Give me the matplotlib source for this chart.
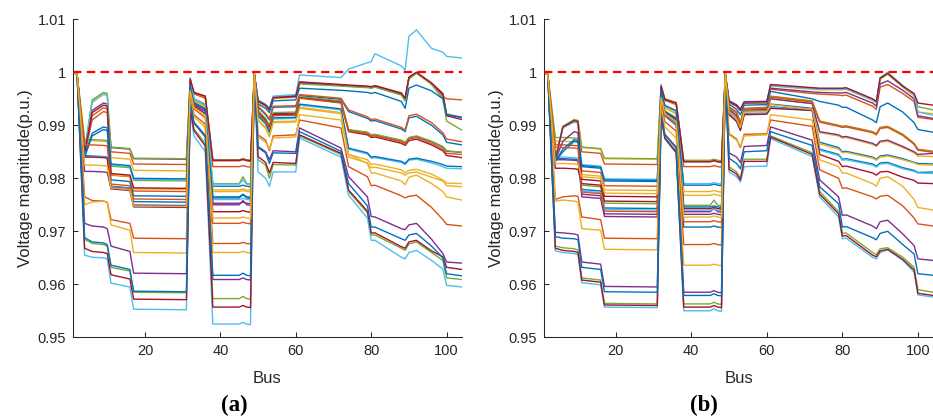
import numpy as np
import matplotlib
matplotlib.use("Agg")
import matplotlib.pyplot as plt

buses = [1, 2, 4, 6, 9, 10, 11, 16, 17, 31, 32, 33, 36, 38, 45, 46, 47, 48, 49,
         50, 52, 53, 54, 60, 61, 72, 74, 79, 80, 81, 88, 89, 90, 92, 96, 99, 100, 104]

# Panel (a) voltages, units of 1e-4 p.u., one list per hour (h01..h24)
a01 = [10000, 9996, 9843, 9842, 9841, 9840, 9785, 9782, 9756, 9755, 9977, 9949, 9938, 9785, 9785, 9787, 9785, 9784, 9997, 9934, 9920, 9910, 9934, 9935, 9956, 9949, 9926, 9913, 9908, 9909, 9893, 9888, 9914, 9917, 9900, 9882, 9868, 9863]
a02 = [10000, 9996, 9845, 9910, 9926, 9924, 9806, 9803, 9776, 9775, 9984, 9959, 9951, 9822, 9822, 9824, 9822, 9821, 9997, 9936, 9922, 9912, 9936, 9937, 9958, 9951, 9929, 9916, 9911, 9912, 9896, 9891, 9918, 9921, 9905, 9886, 9874, 9869]
a03 = [10000, 9996, 9871, 9871, 9870, 9869, 9807, 9804, 9780, 9779, 9976, 9947, 9936, 9778, 9778, 9780, 9778, 9777, 9997, 9910, 9896, 9880, 9907, 9908, 9934, 9924, 9845, 9835, 9826, 9827, 9816, 9810, 9815, 9817, 9808, 9797, 9791, 9790]
a04 = [10000, 9996, 9813, 9813, 9812, 9811, 9780, 9777, 9746, 9745, 9970, 9939, 9926, 9750, 9750, 9758, 9750, 9749, 9997, 9926, 9911, 9898, 9922, 9923, 9953, 9945, 9891, 9886, 9881, 9882, 9871, 9867, 9876, 9879, 9869, 9859, 9851, 9849]
a05 = [10000, 9996, 9873, 9873, 9872, 9871, 9823, 9820, 9796, 9795, 9978, 9950, 9940, 9790, 9790, 9803, 9790, 9789, 9997, 9928, 9913, 9900, 9924, 9925, 9954, 9946, 9892, 9887, 9882, 9883, 9872, 9868, 9877, 9880, 9870, 9860, 9852, 9849]
a06 = [10000, 9996, 9841, 9841, 9840, 9839, 9784, 9781, 9750, 9749, 9972, 9942, 9930, 9760, 9760, 9762, 9760, 9759, 9997, 9916, 9902, 9886, 9912, 9913, 9938, 9929, 9855, 9846, 9838, 9839, 9830, 9826, 9834, 9836, 9829, 9822, 9819, 9818]
a07 = [10000, 9996, 9840, 9840, 9839, 9838, 9783, 9780, 9749, 9748, 9967, 9936, 9922, 9737, 9737, 9739, 9737, 9736, 9997, 9924, 9909, 9895, 9920, 9921, 9952, 9943, 9888, 9882, 9877, 9878, 9866, 9862, 9871, 9874, 9863, 9852, 9843, 9839]
a08 = [10000, 9996, 9840, 9880, 9892, 9890, 9797, 9794, 9767, 9766, 9973, 9943, 9931, 9765, 9765, 9770, 9765, 9764, 9997, 9918, 9904, 9888, 9914, 9915, 9940, 9931, 9857, 9848, 9840, 9841, 9832, 9828, 9836, 9838, 9832, 9826, 9823, 9822]
a09 = [10000, 9996, 9846, 9918, 9933, 9931, 9850, 9847, 9827, 9826, 9987, 9961, 9954, 9833, 9833, 9835, 9833, 9832, 9997, 9946, 9938, 9930, 9953, 9955, 9981, 9976, 9975, 9973, 9972, 9974, 9960, 9950, 9990, 10000, 9978, 9955, 9950, 9948]
a10 = [10000, 9996, 9848, 9943, 9958, 9956, 9839, 9836, 9815, 9814, 9975, 9946, 9935, 9775, 9775, 9777, 9775, 9774, 9997, 9944, 9936, 9928, 9950, 9953, 9979, 9975, 9974, 9972, 9971, 9973, 9958, 9948, 9988, 9998, 9978, 9958, 9922, 9915]
a11 = [10000, 9996, 9850, 9928, 9942, 9940, 9858, 9855, 9837, 9836, 9971, 9940, 9927, 9753, 9753, 9755, 9753, 9752, 9997, 9945, 9937, 9929, 9952, 9954, 9980, 9975, 9974, 9972, 9971, 9973, 9959, 9949, 9989, 9999, 9979, 9958, 9920, 9915]
a12 = [10000, 9996, 9852, 9948, 9962, 9960, 9859, 9856, 9838, 9837, 9987, 9962, 9955, 9835, 9835, 9837, 9835, 9834, 9997, 9947, 9939, 9931, 9954, 9956, 9978, 9974, 9973, 9971, 9970, 9972, 9957, 9946, 9987, 9999, 9977, 9950, 9908, 9891]
a13 = [10000, 9996, 9850, 9945, 9960, 9958, 9825, 9822, 9798, 9797, 9990, 9950, 9940, 9789, 9789, 9797, 9789, 9788, 9997, 9948, 9940, 9932, 9955, 9958, 9995, 9990, 10006, 10018, 10020, 10035, 10012, 10004, 10068, 10080, 10045, 10038, 10030, 10027]
a14 = [10000, 9996, 9848, 9924, 9938, 9936, 9809, 9806, 9782, 9781, 9987, 9962, 9955, 9834, 9834, 9836, 9834, 9833, 9997, 9946, 9938, 9930, 9952, 9955, 9982, 9977, 9976, 9974, 9973, 9975, 9961, 9951, 9991, 10000, 9980, 9960, 9918, 9911]
a15 = [10000, 9996, 9842, 9885, 9897, 9895, 9827, 9824, 9800, 9799, 9973, 9943, 9931, 9763, 9763, 9769, 9763, 9762, 9997, 9940, 9932, 9924, 9946, 9948, 9970, 9966, 9965, 9962, 9960, 9962, 9945, 9932, 9970, 9976, 9965, 9950, 9920, 9915]
a16 = [10000, 9996, 9765, 9758, 9757, 9755, 9722, 9715, 9687, 9686, 9955, 9920, 9902, 9677, 9677, 9679, 9677, 9676, 9997, 9882, 9872, 9852, 9880, 9882, 9910, 9895, 9822, 9803, 9786, 9787, 9767, 9763, 9766, 9768, 9745, 9722, 9713, 9710]
a17 = [10000, 9996, 9750, 9755, 9757, 9755, 9712, 9702, 9660, 9659, 9952, 9916, 9896, 9660, 9660, 9662, 9660, 9659, 9997, 9878, 9868, 9855, 9876, 9878, 9920, 9910, 9845, 9828, 9810, 9810, 9795, 9788, 9802, 9806, 9790, 9775, 9765, 9759]
a18 = [10000, 9996, 9715, 9710, 9708, 9705, 9672, 9662, 9621, 9620, 9942, 9904, 9878, 9609, 9609, 9612, 9609, 9608, 9997, 9860, 9850, 9835, 9852, 9850, 9895, 9857, 9803, 9765, 9728, 9727, 9705, 9703, 9712, 9715, 9685, 9658, 9642, 9640]
a19 = [10000, 9996, 9685, 9677, 9675, 9672, 9632, 9625, 9585, 9584, 9935, 9893, 9866, 9573, 9573, 9577, 9573, 9572, 9997, 9835, 9825, 9800, 9826, 9825, 9880, 9845, 9775, 9735, 9693, 9693, 9668, 9664, 9676, 9680, 9660, 9645, 9612, 9609]
a20 = [10000, 9996, 9655, 9651, 9650, 9648, 9602, 9595, 9553, 9552, 9925, 9880, 9850, 9525, 9525, 9528, 9525, 9524, 9997, 9812, 9800, 9785, 9812, 9812, 9876, 9840, 9768, 9725, 9683, 9683, 9651, 9648, 9660, 9664, 9645, 9629, 9598, 9595]
a21 = [10000, 9996, 9668, 9662, 9660, 9658, 9618, 9610, 9572, 9571, 9931, 9890, 9861, 9557, 9557, 9560, 9557, 9556, 9997, 9841, 9830, 9810, 9830, 9828, 9882, 9847, 9778, 9738, 9697, 9697, 9671, 9668, 9680, 9683, 9663, 9652, 9632, 9628]
a22 = [10000, 9996, 9688, 9680, 9678, 9675, 9636, 9628, 9587, 9586, 9943, 9906, 9881, 9617, 9617, 9621, 9617, 9616, 9997, 9858, 9848, 9828, 9848, 9847, 9888, 9851, 9790, 9748, 9708, 9708, 9686, 9683, 9693, 9696, 9672, 9650, 9620, 9616]
a23 = [10000, 9996, 9863, 9863, 9862, 9861, 9789, 9786, 9761, 9760, 9963, 9931, 9914, 9715, 9715, 9717, 9715, 9714, 9997, 9922, 9907, 9893, 9918, 9919, 9951, 9942, 9889, 9884, 9879, 9880, 9869, 9865, 9874, 9877, 9866, 9855, 9847, 9845]
a24 = [10000, 9996, 9825, 9825, 9824, 9823, 9782, 9779, 9748, 9747, 9965, 9933, 9918, 9725, 9725, 9727, 9725, 9724, 9997, 9908, 9894, 9878, 9905, 9906, 9932, 9922, 9840, 9829, 9820, 9821, 9810, 9806, 9810, 9812, 9802, 9795, 9786, 9784]

# Panel (b) voltages, units of 1e-4 p.u.
b01 = [10000, 9996, 9837, 9837, 9836, 9835, 9779, 9776, 9744, 9743, 9948, 9918, 9900, 9708, 9708, 9710, 9708, 9707, 9997, 9922, 9910, 9893, 9922, 9923, 9935, 9929, 9855, 9845, 9836, 9837, 9827, 9823, 9829, 9830, 9820, 9815, 9811, 9812]
b02 = [10000, 9996, 9863, 9863, 9862, 9861, 9814, 9811, 9786, 9785, 9972, 9947, 9939, 9822, 9822, 9824, 9822, 9821, 9997, 9935, 9925, 9905, 9932, 9934, 9955, 9946, 9908, 9900, 9898, 9899, 9888, 9884, 9896, 9898, 9883, 9866, 9855, 9851]
b03 = [10000, 9996, 9870, 9870, 9869, 9868, 9807, 9804, 9778, 9777, 9961, 9933, 9921, 9768, 9768, 9770, 9768, 9767, 9997, 9930, 9918, 9900, 9929, 9930, 9950, 9941, 9886, 9880, 9876, 9877, 9864, 9860, 9868, 9870, 9858, 9848, 9842, 9841]
b04 = [10000, 9996, 9835, 9835, 9834, 9833, 9770, 9767, 9733, 9732, 9954, 9924, 9910, 9737, 9737, 9743, 9737, 9736, 9997, 9930, 9918, 9900, 9929, 9930, 9950, 9941, 9888, 9882, 9878, 9879, 9866, 9862, 9870, 9872, 9860, 9850, 9845, 9847]
b05 = [10000, 9996, 9877, 9877, 9876, 9875, 9787, 9784, 9753, 9752, 9957, 9927, 9914, 9749, 9749, 9759, 9749, 9748, 9997, 9934, 9924, 9904, 9931, 9933, 9954, 9945, 9907, 9899, 9897, 9898, 9887, 9883, 9895, 9897, 9882, 9865, 9854, 9850]
b06 = [10000, 9996, 9840, 9840, 9839, 9838, 9776, 9773, 9741, 9740, 9955, 9925, 9911, 9740, 9740, 9742, 9740, 9739, 9997, 9921, 9909, 9892, 9921, 9922, 9934, 9928, 9853, 9843, 9834, 9835, 9825, 9821, 9827, 9828, 9818, 9813, 9810, 9809]
b07 = [10000, 9996, 9819, 9819, 9818, 9817, 9790, 9787, 9757, 9756, 9956, 9925, 9912, 9743, 9743, 9745, 9743, 9742, 9997, 9920, 9907, 9890, 9920, 9921, 9932, 9928, 9845, 9832, 9822, 9823, 9810, 9806, 9812, 9813, 9802, 9796, 9791, 9790]
b08 = [10000, 9996, 9832, 9850, 9870, 9868, 9822, 9819, 9795, 9794, 9956, 9926, 9913, 9746, 9746, 9748, 9746, 9745, 9997, 9926, 9913, 9897, 9926, 9927, 9940, 9932, 9868, 9858, 9850, 9851, 9840, 9836, 9842, 9844, 9837, 9830, 9828, 9827]
b09 = [10000, 9996, 9834, 9896, 9907, 9905, 9850, 9847, 9827, 9826, 9974, 9949, 9942, 9832, 9832, 9834, 9832, 9831, 9997, 9944, 9936, 9928, 9942, 9942, 9968, 9960, 9959, 9957, 9956, 9957, 9936, 9930, 9972, 9977, 9960, 9945, 9915, 9911]
b10 = [10000, 9996, 9835, 9897, 9908, 9906, 9858, 9855, 9837, 9836, 9962, 9934, 9923, 9775, 9775, 9777, 9775, 9774, 9997, 9945, 9937, 9929, 9943, 9943, 9974, 9968, 9967, 9967, 9967, 9968, 9947, 9942, 9987, 9996, 9972, 9955, 9925, 9922]
b11 = [10000, 9996, 9835, 9870, 9888, 9886, 9765, 9762, 9728, 9727, 9953, 9923, 9909, 9732, 9732, 9734, 9732, 9731, 9997, 9944, 9936, 9928, 9942, 9943, 9970, 9963, 9962, 9961, 9961, 9962, 9942, 9936, 9978, 9984, 9966, 9950, 9918, 9913]
b12 = [10000, 9996, 9836, 9898, 9911, 9909, 9859, 9856, 9838, 9837, 9975, 9950, 9943, 9834, 9834, 9836, 9834, 9833, 9997, 9946, 9938, 9930, 9944, 9944, 9976, 9970, 9969, 9969, 9969, 9970, 9949, 9944, 9988, 9997, 9973, 9958, 9935, 9929]
b13 = [10000, 9996, 9834, 9895, 9906, 9904, 9826, 9823, 9799, 9798, 9977, 9938, 9928, 9790, 9790, 9792, 9790, 9789, 9997, 9947, 9939, 9931, 9945, 9945, 9975, 9969, 9968, 9968, 9968, 9969, 9948, 9943, 9990, 10000, 9975, 9958, 9925, 9919]
b14 = [10000, 9996, 9835, 9897, 9909, 9907, 9798, 9795, 9766, 9765, 9974, 9949, 9942, 9831, 9831, 9833, 9831, 9830, 9997, 9946, 9938, 9930, 9944, 9945, 9977, 9971, 9970, 9970, 9970, 9971, 9950, 9945, 9989, 9998, 9974, 9960, 9942, 9938]
b15 = [10000, 9996, 9833, 9855, 9873, 9871, 9824, 9821, 9797, 9796, 9965, 9937, 9927, 9787, 9787, 9789, 9787, 9786, 9997, 9940, 9930, 9920, 9938, 9939, 9964, 9950, 9945, 9938, 9934, 9934, 9910, 9905, 9935, 9942, 9925, 9905, 9892, 9887]
b16 = [10000, 9996, 9760, 9765, 9767, 9766, 9727, 9722, 9687, 9686, 9941, 9907, 9889, 9675, 9675, 9677, 9675, 9674, 9997, 9884, 9874, 9858, 9883, 9884, 9910, 9898, 9816, 9800, 9781, 9782, 9765, 9761, 9766, 9768, 9748, 9725, 9714, 9710]
b17 = [10000, 9996, 9757, 9759, 9757, 9755, 9705, 9702, 9666, 9665, 9933, 9897, 9876, 9636, 9636, 9638, 9636, 9635, 9997, 9882, 9872, 9860, 9880, 9882, 9920, 9910, 9835, 9822, 9810, 9810, 9790, 9785, 9800, 9803, 9785, 9760, 9745, 9740]
b18 = [10000, 9996, 9698, 9697, 9695, 9693, 9642, 9638, 9596, 9595, 9922, 9883, 9859, 9585, 9585, 9588, 9585, 9584, 9997, 9848, 9840, 9830, 9860, 9862, 9897, 9872, 9797, 9765, 9730, 9731, 9710, 9705, 9718, 9721, 9695, 9673, 9648, 9645]
b19 = [10000, 9996, 9672, 9669, 9667, 9665, 9612, 9608, 9564, 9563, 9918, 9877, 9851, 9563, 9563, 9566, 9563, 9562, 9997, 9822, 9812, 9800, 9836, 9836, 9880, 9848, 9775, 9737, 9696, 9697, 9660, 9656, 9667, 9669, 9651, 9632, 9590, 9585]
b20 = [10000, 9996, 9663, 9660, 9658, 9656, 9603, 9599, 9557, 9556, 9915, 9874, 9847, 9550, 9550, 9554, 9550, 9549, 9997, 9812, 9803, 9793, 9822, 9823, 9875, 9841, 9765, 9727, 9686, 9687, 9651, 9648, 9660, 9665, 9645, 9623, 9580, 9576]
b21 = [10000, 9996, 9668, 9664, 9662, 9660, 9608, 9604, 9561, 9560, 9916, 9876, 9849, 9557, 9557, 9560, 9557, 9556, 9997, 9817, 9808, 9797, 9832, 9832, 9878, 9845, 9770, 9733, 9691, 9692, 9655, 9652, 9663, 9666, 9647, 9627, 9583, 9579]
b22 = [10000, 9996, 9690, 9687, 9686, 9684, 9632, 9628, 9586, 9585, 9921, 9882, 9857, 9579, 9579, 9582, 9579, 9578, 9997, 9838, 9828, 9818, 9850, 9852, 9888, 9862, 9784, 9752, 9708, 9709, 9688, 9684, 9696, 9700, 9675, 9657, 9620, 9617]
b23 = [10000, 9996, 9858, 9858, 9857, 9856, 9774, 9771, 9738, 9737, 9950, 9920, 9904, 9718, 9718, 9720, 9718, 9717, 9997, 9933, 9923, 9903, 9930, 9932, 9953, 9944, 9906, 9898, 9896, 9897, 9886, 9882, 9894, 9896, 9881, 9864, 9853, 9849]
b24 = [10000, 9996, 9828, 9828, 9827, 9826, 9803, 9800, 9772, 9771, 9952, 9922, 9907, 9727, 9727, 9729, 9727, 9726, 9997, 9925, 9912, 9896, 9925, 9926, 9939, 9930, 9865, 9855, 9848, 9849, 9838, 9834, 9840, 9842, 9835, 9829, 9826, 9825]

panel_a = [a01, a02, a03, a04, a05, a06, a07, a08, a09, a10, a11, a12,
           a13, a14, a15, a16, a17, a18, a19, a20, a21, a22, a23, a24]
panel_b = [b01, b02, b03, b04, b05, b06, b07, b08, b09, b10, b11, b12,
           b13, b14, b15, b16, b17, b18, b19, b20, b21, b22, b23, b24]

yticks = [0.95, 0.96, 0.97, 0.98, 0.99, 1.00, 1.01]
ytick_labels = ["0.95", "0.96", "0.97", "0.98", "0.99", "1", "1.01"]
xticks = [20, 40, 60, 80, 100]
limit_v = 1.0

# MATLAB default colour order
cycle = ["#0072BD", "#D95319", "#EDB120", "#7E2F8E", "#77AC30", "#4DBEEE", "#A2142F"]

plt.rcParams["font.family"] = ["Liberation Sans", "DejaVu Sans"]

fig = plt.figure(figsize=(9.33, 4.19), dpi=100)
W, H = 933.0, 419.0
ax_a = fig.add_axes([73.3 / W, 1 - 337.3 / H, 388.4 / W, 318.0 / H])
ax_b = fig.add_axes([544.0 / W, 1 - 337.3 / H, 389.0 / W, 318.0 / H])

x = np.array(buses)
for ax, rows, tag, tx in [(ax_a, panel_a, "(a)", 234), (ax_b, panel_b, "(b)", 704)]:
    for i, r in enumerate(rows):
        if len(r) != len(buses):
            raise ValueError(f"row {i+1} of {tag} has {len(r)} values")
        ax.plot(x, np.array(r) / 10000.0, color=cycle[i % 7], lw=1.0, zorder=2)
    ax.axhline(limit_v, color="#FF0000", lw=1.6, dashes=(3.8, 2.4), zorder=3)
    ax.set_xlim(1, 104)
    ax.set_ylim(0.95, 1.01)
    ax.set_xticks(xticks)
    ax.set_yticks(yticks)
    ax.set_yticklabels(ytick_labels)
    for s in ["top", "right"]:
        ax.spines[s].set_visible(False)
    for s in ["left", "bottom"]:
        ax.spines[s].set_linewidth(0.75)
        ax.spines[s].set_color("#262626")
    ax.tick_params(direction="in", length=3.5, width=0.75, colors="#262626",
                   labelsize=10.5, pad=5, labelcolor="#262626")
    ax.set_xlabel("Bus", fontsize=12, color="#262626")
    ax.xaxis.set_label_coords(0.5, -0.128)
    ax.xaxis.label.set_va("center")
    ax.set_ylabel("Voltage magnitude(p.u.)", fontsize=12, color="#262626")
    ax.yaxis.set_label_coords(-0.122, 0.5)
    ax.yaxis.label.set_va("center")
    fig.text(tx / W, 1 - 405 / H, tag, ha="center", va="center",
             fontfamily="Liberation Serif", fontweight="bold", fontsize=16.5)

fig.savefig("out.png", dpi=100)
